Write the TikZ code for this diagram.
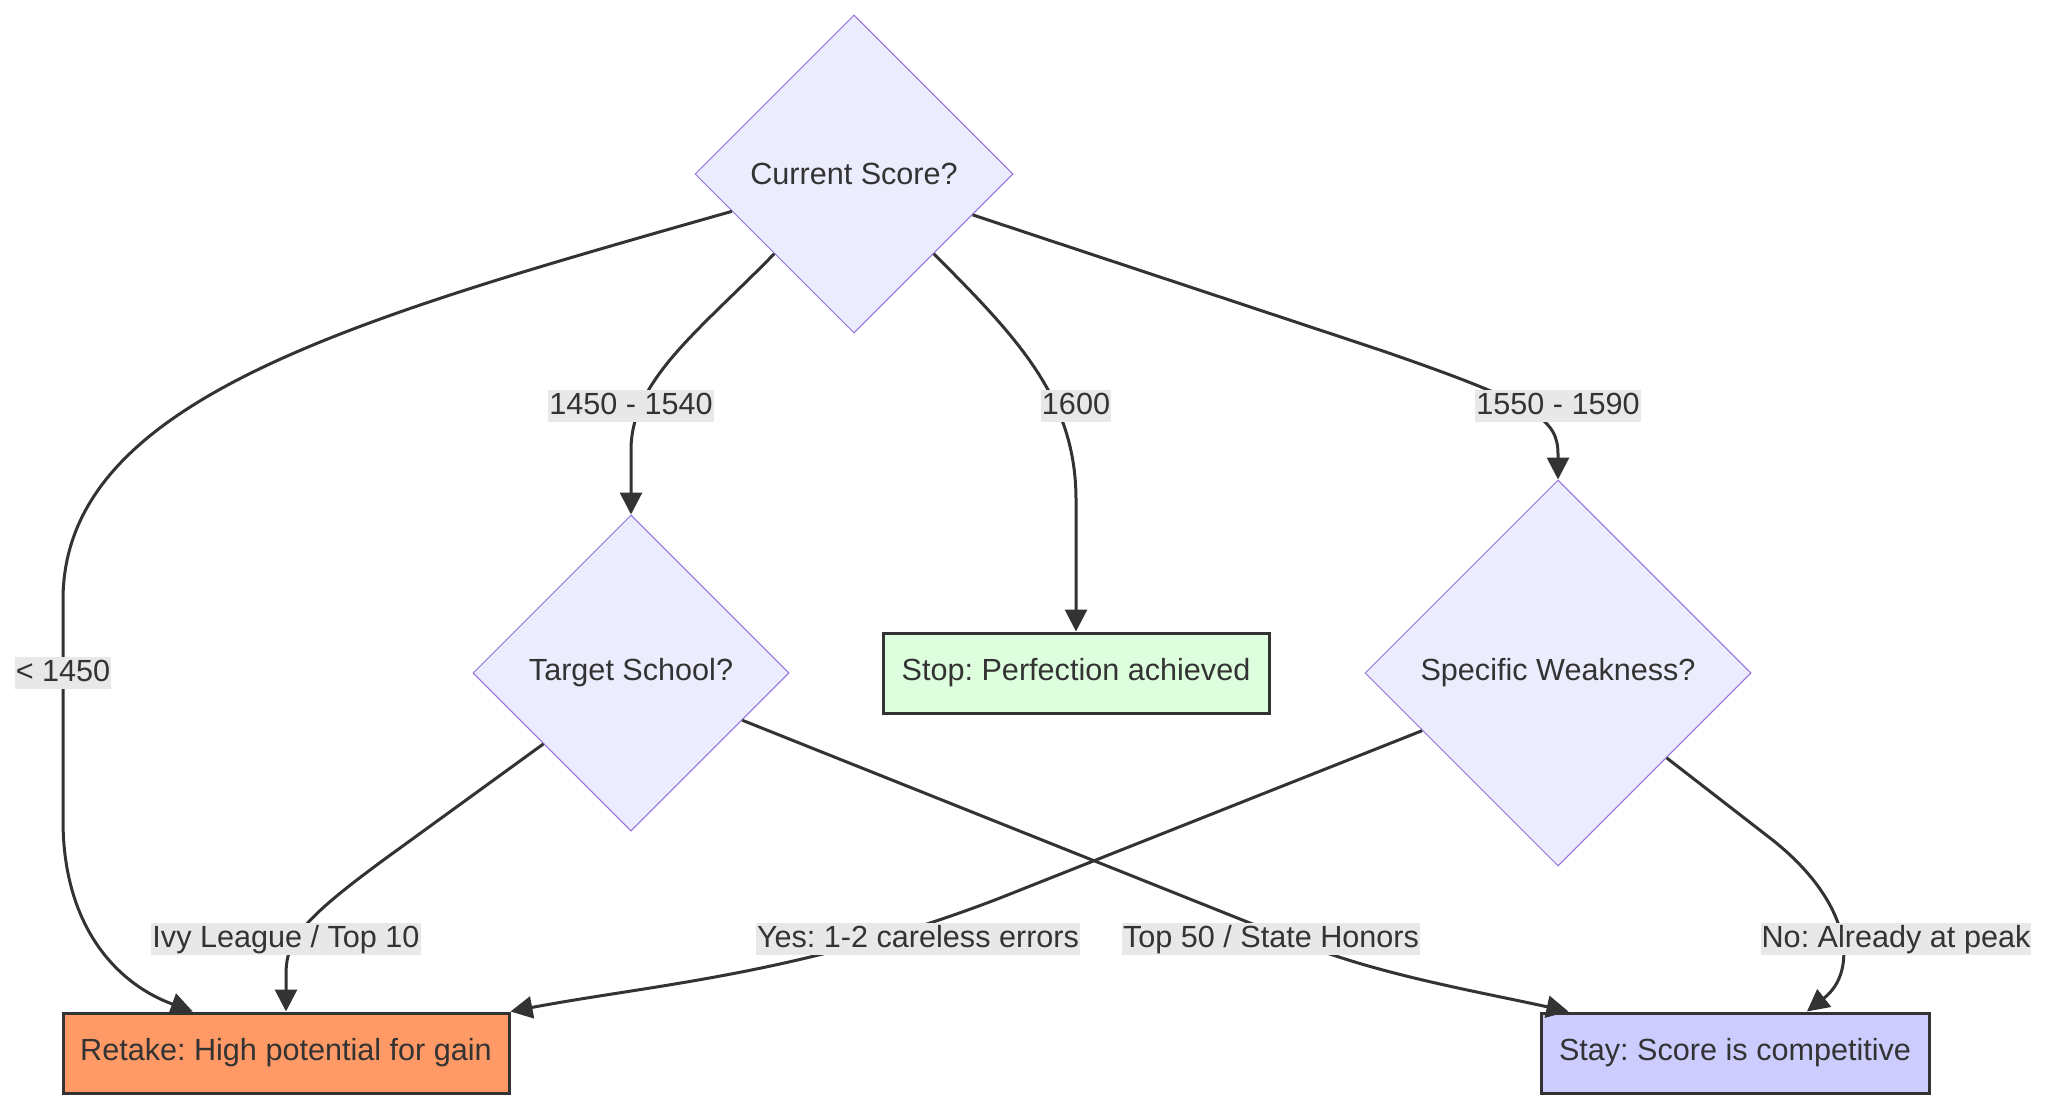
\documentclass[tikz,border=0pt]{standalone}
\usepackage{fontspec}
\setmainfont{Liberation Sans}
\usetikzlibrary{arrows.meta,shapes.geometric}
\frenchspacing
\definecolor{inkcolor}{HTML}{333333}
\definecolor{decfill}{HTML}{ECECFF}
\definecolor{decline}{HTML}{9370DB}
\definecolor{retakecolor}{HTML}{FF9966}
\definecolor{stopcolor}{HTML}{DDFFDD}
\definecolor{staycolor}{HTML}{CCCCFF}
\definecolor{lblcolor}{HTML}{E8E8E8}
\tikzset{
  decision/.style={diamond, aspect=1, draw=decline, fill=decfill, line width=0.5pt, inner sep=0pt, text=inkcolor},
  outcome/.style={rectangle, draw=inkcolor, line width=1.5pt, minimum height=40pt, inner sep=0pt, text=inkcolor},
  flowln/.style={-{Triangle[length=11pt,width=11pt]}, line width=1.5pt, draw=inkcolor},
  edgelbl/.style={fill=lblcolor, text=inkcolor, inner xsep=0.5pt, inner ysep=0.5pt, text height=11.5pt, text depth=3.5pt},
}

\begin{document}
\begin{tikzpicture}[x=0.5pt, y=-0.5pt, font=\fontsize{15.3}{18}\selectfont]
    \useasboundingbox (0,0) rectangle (2048,1108);
    % Decisions
    \node[decision, minimum width=159pt, minimum height=159pt] (cur) at (854,174) {Current Score?};
    \node[decision, minimum width=158pt, minimum height=158pt] (tar) at (631,673) {Target School?};
    \node[decision, minimum width=193pt, minimum height=193pt] (spec) at (1558,673) {Specific Weakness?};
    % Outcomes
    \node[outcome, fill=stopcolor, minimum width=193pt] (stop) at (1076,673) {Stop: Perfection achieved};
    \node[outcome, fill=retakecolor, minimum width=223pt] (ret) at (286,1053) {Retake: High potential for gain};
    \node[outcome, fill=staycolor, minimum width=194pt] (stay) at (1735,1053) {Stay: Score is competitive};
    % From Current Score?
    \draw[flowln] (cur.197) .. controls (350,320) and (63,400) .. (63,600) -- (63,820)
      .. controls (63,930) and (120,985) .. (ret.156);
    \draw[flowln] (cur.south west) .. controls (700,330) and (631,380) .. (631,450) -- (tar.north);
    \draw[flowln] (cur.south east) .. controls (1020,340) and (1076,400) .. (1076,500) -- (stop.north);
    \draw[flowln] (cur.-19) -- (1380,350) .. controls (1540,405) and (1558,420) .. (1558,455) -- (spec.north);
    % From Target School?
    \draw[flowln] (tar.219) -- (400,848) .. controls (300,920) and (286,940) .. (286,975) -- (ret.north);
    \draw[flowln] (tar.-23) -- (1300,943) .. controls (1380,975) and (1480,992) .. (stay.166);
    % From Specific Weakness?
    \draw[flowln] (spec.203) -- (1000,898) .. controls (800,975) and (650,985) .. (ret.north east);
    \draw[flowln] (spec.-38) -- (1770,838) .. controls (1850,900) and (1860,970) .. (stay.30);
    % Edge labels
    \node[edgelbl] (lLow) at (63,673) {< 1450};
    \node[edgelbl] (lMid) at (631,406) {1450 - 1540};
    \node[edgelbl] (lTop) at (1076,406) {1600};
    \node[edgelbl] (lHigh) at (1558,406) {1550 - 1590};
    \node[edgelbl] (lIvy) at (286,939) {Ivy League / Top 10};
    \node[edgelbl] (lYes) at (918,939) {Yes: 1-2 careless errors};
    \node[edgelbl] (lState) at (1271,939) {Top 50 / State Honors};
    \node[edgelbl] (lNo) at (1896,939) {No: Already at peak};
\end{tikzpicture}
\end{document}
